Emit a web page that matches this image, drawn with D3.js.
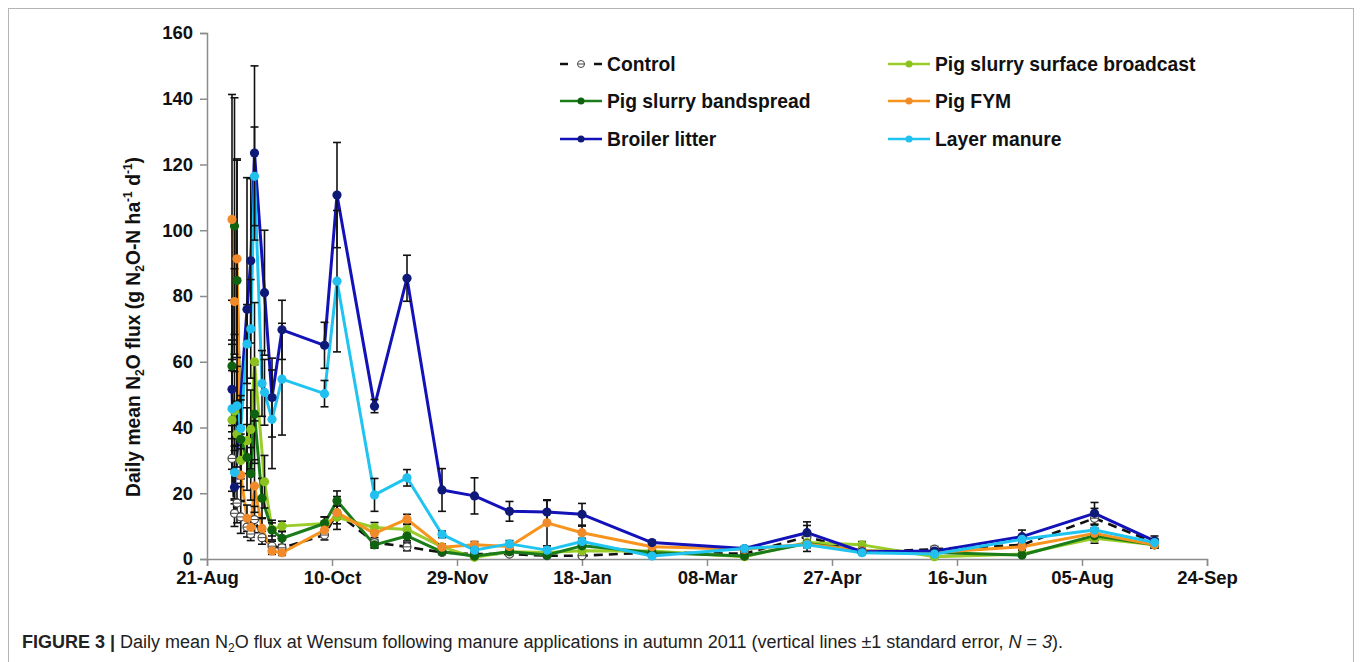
<!DOCTYPE html>
<html>
<head>
<meta charset="UTF-8">
<title></title>
<script src="https://cdn.jsdelivr.net/npm/d3@7"></script>
<style>
    body { margin: 0; background: #fff; }
    svg text { font-family: "Liberation Sans", Arial, sans-serif; }
</style>
</head>
<body>
<svg id="chart" width="1362" height="662"></svg>
<script>
    // sampling days, counted from 21-Aug-2011
    var sampleDays = [10, 11, 12, 13.5, 16, 17.5, 19, 22, 23, 26, 30, 47, 52, 67, 80, 94, 107, 121, 136, 150, 178, 215, 240, 262, 291, 326, 355, 379];

    var controlVals = [30.6, 13.9, 17.0, 12.8, 9.7, 7.6, 12.0, 6.5, null, 3.9, 3.4, 7.3, 14.0, 5.0, 3.7, 2.0, 1.5, 1.5, 1.0, 1.0, 2.0, 1.6, 6.8, 2.0, 3.0, 4.3, 12.4, 5.0];
    var controlErr = [10, 4, 6, 5, 3, 2, 4, 2, null, 1.5, 1, 1.5, 5, 1.5, 1.2, 0.6, 0.5, 0.5, 0.4, 0.4, 0.5, 0.5, 4.5, 0.5, 0.8, 1.2, 3, 1.2];

    var broadcastVals = [42.3, 45.0, 38.0, 30.0, 36.0, 39.4, 60.0, null, 23.5, 9.0, 10.0, 10.8, 12.7, 9.6, 9.0, 3.7, 0.5, 2.2, 2.0, 2.5, 2.4, 0.7, 5.0, 4.3, 0.7, 1.5, 6.3, 4.3];
    var broadcastErr = [15, 12, 10, 8, 10, 12, 18, null, 8, 2, 1.5, 2, 2, 1.5, 1.5, 0.8, 0.3, 0.5, 0.5, 0.6, 0.5, 0.3, 1, 1, 0.3, 0.5, 1.5, 1];

    var bandspreadVals = [58.7, 101.3, 84.7, 36.4, 30.9, 25.9, 44.1, 18.5, null, 8.8, 6.3, 10.8, 17.7, 4.3, 7.0, 2.2, 0.9, 2.2, 1.2, 4.0, 2.0, 0.9, 4.7, 2.5, 2.0, 1.2, 7.1, 4.3];
    var bandspreadErr = [20, 39, 37, 12, 10, 8, 15, 6, null, 3, 2, 2, 3, 1, 1.5, 0.6, 0.3, 0.5, 0.4, 1, 0.5, 0.3, 1, 0.6, 0.5, 0.4, 1.5, 1];

    var fymVals = [103.3, 78.3, 91.3, 25.5, 12.4, 9.6, 22.2, 9.3, null, 2.4, 1.9, 8.8, 14.1, 7.8, 12.1, 3.6, 4.3, 3.8, 11.0, 8.0, 3.7, 3.0, 4.5, 2.5, 2.0, 3.7, 7.8, 4.3];
    var fymErr = [38, 10, 30, 8, 4, 3, 8, 3, null, 1, 0.8, 1.5, 2, 2, 1.5, 0.8, 1, 0.8, 7, 2, 0.8, 0.6, 1, 0.6, 0.5, 1, 1.5, 1];

    var broilerVals = [51.6, 21.8, null, null, 76.0, 90.7, 123.5, null, 81.0, 49.1, 69.7, 65.0, 110.7, 46.5, 85.4, 21.0, 19.2, 14.5, 14.3, 13.6, 5.0, 3.2, 8.0, 2.2, 2.4, 6.8, 13.9, 5.5];
    var broilerErr = [15, 5, null, null, 40, 25, 26.5, null, 19, 12, 9, 7, 16, 2, 7, 6.5, 5.5, 3, 3.5, 3.3, 0.6, 0.5, 2.2, 0.5, 1, 2, 3.3, 1.5];

    var layerVals = [45.7, 26.3, 46.6, 39.7, 65.4, 70.0, 116.4, 53.4, 50.7, 42.5, 54.7, 50.3, 84.5, 19.5, 24.7, 7.5, 2.7, 4.6, 2.7, 5.3, 0.9, 3.2, 4.3, 1.9, 1.5, 6.0, 8.8, 5.0];
    var layerErr = [15, 8, 12, 10, 12, 15, 15, 10, 10, 15, 17, 4, 21.5, 5, 2.5, 1, 0.5, 1, 0.5, 1, 0.3, 0.4, 0.8, 0.4, 0.4, 1, 1.5, 1];

    var yTicks = [0, 20, 40, 60, 80, 100, 120, 140, 160];
    var xTickDays = [0, 50, 100, 150, 200, 250, 300, 350, 400];

    var series = [
        {name: 'Control', vals: controlVals, err: controlErr, color: '#111', mark: '#333', dash: '9,6', ctrl: true},
        {name: 'Pig slurry surface broadcast', vals: broadcastVals, err: broadcastErr, color: '#9acd2a', mark: '#8cc21e'},
        {name: 'Pig slurry bandspread', vals: bandspreadVals, err: bandspreadErr, color: '#1a7d1a', mark: '#0f620f'},
        {name: 'Pig FYM', vals: fymVals, err: fymErr, color: '#f7941d', mark: '#f08a2a'},
        {name: 'Broiler litter', vals: broilerVals, err: broilerErr, color: '#1212b8', mark: '#0f1a78'},
        {name: 'Layer manure', vals: layerVals, err: layerErr, color: '#20c4f0', mark: '#22c0ee'}
    ];

    var start = new Date(2011, 7, 21);
    var svg = d3.select('#chart');

    // frame
    svg.append('rect').attr('x', 8.5).attr('y', 8.5).attr('width', 1345).attr('height', 700)
        .attr('fill', 'none').attr('stroke', '#b5b5b5').attr('stroke-width', 1);

    var x = d3.scaleTime()
        .domain([start, d3.timeDay.offset(start, 400)])
        .range([207, 1207]);
    var y = d3.scaleLinear().domain([0, 160]).range([559, 33]);

    var xAxis = svg.append('g').attr('transform', 'translate(0,559)')
        .call(d3.axisBottom(x)
            .tickValues(xTickDays.map(function (d) { return d3.timeDay.offset(start, d); }))
            .tickFormat(d3.timeFormat('%d-%b'))
            .tickSize(7).tickPadding(5));
    var yAxis = svg.append('g').attr('transform', 'translate(207,0)')
        .call(d3.axisLeft(y).tickValues(yTicks).tickSize(7).tickPadding(7));

    [xAxis, yAxis].forEach(function (g) {
        g.selectAll('path, line').attr('stroke', '#8c8c8c').attr('stroke-width', 1.5);
        g.selectAll('text').attr('font-size', 18.5).attr('font-weight', 'bold')
            .attr('fill', '#111').style('font-family', '"Liberation Sans", Arial, sans-serif');
    });

    // y label
    var yl = svg.append('text')
        .attr('transform', 'translate(140,327) rotate(-90)')
        .attr('text-anchor', 'middle').attr('font-size', 19.3).attr('font-weight', 'bold').attr('fill', '#111');
    yl.append('tspan').text('Daily mean N');
    yl.append('tspan').attr('font-size', 12).attr('dy', 4).text('2');
    yl.append('tspan').attr('dy', -4).text('O flux (g N');
    yl.append('tspan').attr('font-size', 12).attr('dy', 4).text('2');
    yl.append('tspan').attr('dy', -4).text('O-N ha');
    yl.append('tspan').attr('font-size', 12).attr('dy', -8).text('-1');
    yl.append('tspan').attr('dy', 8).text(' d');
    yl.append('tspan').attr('font-size', 12).attr('dy', -8).text('-1');
    yl.append('tspan').attr('dy', 8).text(')');

    function pts(s) {
        var out = [];
        s.vals.forEach(function (v, i) {
            if (v !== null) out.push({date: d3.timeHour.offset(start, sampleDays[i] * 24), v: v, e: s.err[i]});
        });
        return out;
    }

    var line = d3.line().x(function (d) { return x(d.date); }).y(function (d) { return y(d.v); });

    var gLines = svg.append('g'), gErr = svg.append('g'), gMarks = svg.append('g');

    series.forEach(function (s) {
        var data = pts(s);
        gLines.append('path').datum(data).attr('d', line)
            .attr('fill', 'none').attr('stroke', s.color)
            .attr('stroke-width', s.ctrl ? 2.6 : 3)
            .attr('stroke-dasharray', s.dash || null)
            .attr('stroke-linejoin', 'round');

        data.forEach(function (d) {
            if (!d.e) return;
            var cx = x(d.date), y1 = y(d.v + d.e), y0 = y(Math.max(0, d.v - d.e));
            gErr.append('line').attr('x1', cx).attr('x2', cx).attr('y1', y1).attr('y2', y0)
                .attr('stroke', '#111').attr('stroke-width', 1.6);
            [y1, y0].forEach(function (yy) {
                gErr.append('line').attr('x1', cx - 4).attr('x2', cx + 4).attr('y1', yy).attr('y2', yy)
                    .attr('stroke', '#111').attr('stroke-width', 1.6);
            });
        });

        data.forEach(function (d) {
            var cx = x(d.date), cy = y(d.v);
            if (s.ctrl) {
                gMarks.append('circle').attr('cx', cx).attr('cy', cy).attr('r', 4)
                    .attr('fill', '#fff').attr('stroke', '#444').attr('stroke-width', 1.2);
                gMarks.append('line').attr('x1', cx - 4).attr('x2', cx + 4).attr('y1', cy).attr('y2', cy)
                    .attr('stroke', '#444').attr('stroke-width', 1);
            } else {
                gMarks.append('circle').attr('cx', cx).attr('cy', cy).attr('r', 4.6).attr('fill', s.mark);
            }
        });
    });

    // legend
    var legendPos = [[560, 64], [888, 64], [560, 101], [888, 101], [560, 139], [888, 139]];
    series.forEach(function (s, i) {
        var lx = legendPos[i][0], ly = legendPos[i][1];
        var g = svg.append('g');
        if (s.ctrl) {
            g.append('line').attr('x1', lx).attr('x2', lx + 8).attr('y1', ly).attr('y2', ly)
                .attr('stroke', '#111').attr('stroke-width', 2.5);
            g.append('line').attr('x1', lx + 34).attr('x2', lx + 42).attr('y1', ly).attr('y2', ly)
                .attr('stroke', '#111').attr('stroke-width', 2.5);
            g.append('circle').attr('cx', lx + 21).attr('cy', ly).attr('r', 3.5)
                .attr('fill', '#fff').attr('stroke', '#444').attr('stroke-width', 1);
            g.append('line').attr('x1', lx + 17.5).attr('x2', lx + 24.5).attr('y1', ly).attr('y2', ly)
                .attr('stroke', '#444').attr('stroke-width', 1);
        } else {
            g.append('line').attr('x1', lx).attr('x2', lx + 42).attr('y1', ly).attr('y2', ly)
                .attr('stroke', s.color).attr('stroke-width', 2.5);
            g.append('circle').attr('cx', lx + 21).attr('cy', ly).attr('r', 3.5).attr('fill', s.mark);
        }
        g.append('text').attr('x', lx + 47).attr('y', ly + 7)
            .attr('font-size', 19.3).attr('font-weight', 'bold').attr('fill', '#111').text(s.name);
    });

    // caption
    var cap = svg.append('text').attr('x', 22).attr('y', 648).attr('font-size', 18).attr('fill', '#222');
    cap.append('tspan').attr('font-weight', 'bold').text('FIGURE 3 | ');
    cap.append('tspan').text('Daily mean N');
    cap.append('tspan').attr('font-size', 12).attr('dy', 4).text('2');
    cap.append('tspan').attr('dy', -4).text('O flux at Wensum following manure applications in autumn 2011 (vertical lines \u00b11 standard error, ');
    cap.append('tspan').attr('font-style', 'italic').text('N');
    cap.append('tspan').text(' = ');
    cap.append('tspan').attr('font-style', 'italic').text('3');
    cap.append('tspan').text(').');
</script>
</body>
</html>
